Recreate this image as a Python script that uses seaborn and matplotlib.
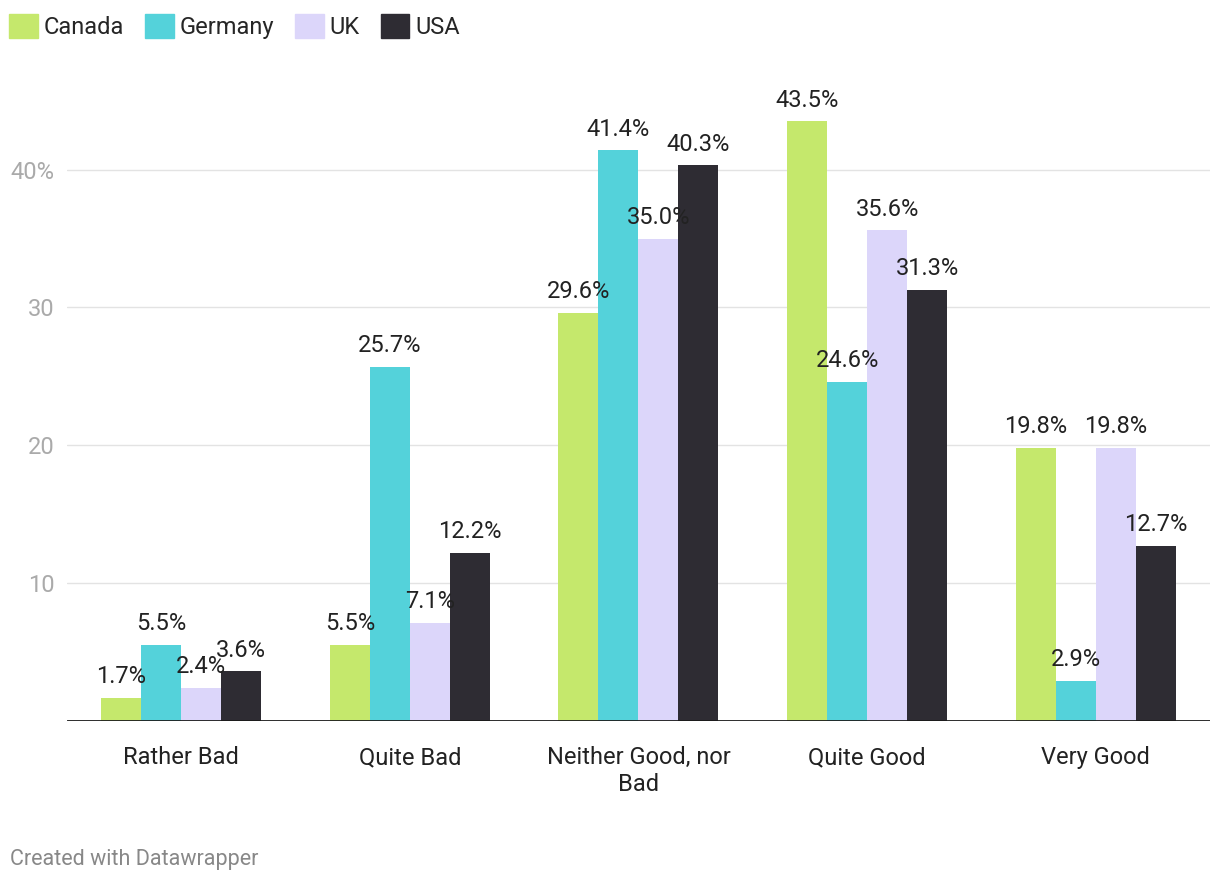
import pandas as pd
import matplotlib.pyplot as plt
import matplotlib.patches as mpatches
import seaborn as sns

categories = ['Rather Bad', 'Quite Bad', 'Neither Good, nor\nBad', 'Quite Good', 'Very Good']
countries = ['Canada', 'Germany', 'UK', 'USA']
canada = [1.7, 5.5, 29.6, 43.5, 19.8]
germany = [5.5, 25.7, 41.4, 24.6, 2.9]
uk = [2.4, 7.1, 35.0, 35.6, 19.8]
usa = [3.6, 12.2, 40.3, 31.3, 12.7]
colors = ['#c5e86c', '#54d2da', '#dcd6fa', '#2e2c33']

rows = []
for country, vals in zip(countries, [canada, germany, uk, usa]):
    for cat, v in zip(categories, vals):
        rows.append({'category': cat, 'country': country, 'value': v})
data = pd.DataFrame(rows)

sns.set_style('white')
plt.rcParams['font.family'] = ['Roboto', 'DejaVu Sans']

fig = plt.figure(figsize=(12.2, 8.82), dpi=100)
ax = fig.add_axes([0.0549, 0.1825, 0.9369, 0.7268])

sns.barplot(data=data, x='category', y='value', hue='country', order=categories,
            hue_order=countries, palette=colors, width=0.7, saturation=1,
            edgecolor='none', linewidth=0, legend=False, ax=ax, zorder=2)

for container in ax.containers:
    ax.bar_label(container, labels=[f'{b.get_height():.1f}%' for b in container],
                 padding=7, fontsize=17, color='#222222')

ax.set_xlim(-0.5, 4.5)
ax.set_ylim(0, 46.5)
ax.set_yticks([10, 20, 30, 40])
ax.set_yticklabels(['10', '20', '30', '40%'])
ax.grid(axis='y', color='#e3e3e3', linewidth=1, zorder=0)
ax.axhline(0, color='#1a1a1a', linewidth=2, zorder=3)
for s in ax.spines.values():
    s.set_visible(False)
ax.tick_params(axis='y', length=0, labelsize=17, labelcolor='#aaaaaa', pad=9)
ax.tick_params(axis='x', length=0, labelsize=17, labelcolor='#222222', pad=18)
ax.set_xlabel('')
ax.set_ylabel('')

handles = [mpatches.Patch(color=c, label=n) for c, n in zip(colors, countries)]
fig.legend(handles=handles, loc='upper left', bbox_to_anchor=(0.0, 0.995), ncol=4,
           frameon=False, fontsize=17, handlelength=1.2, handleheight=1.2,
           handletextpad=0.25, columnspacing=0.9, borderaxespad=0)

fig.text(0.008, 0.019, 'Created with Datawrapper', fontsize=15.5, color='#888888')

plt.savefig('out.png', dpi=100)
